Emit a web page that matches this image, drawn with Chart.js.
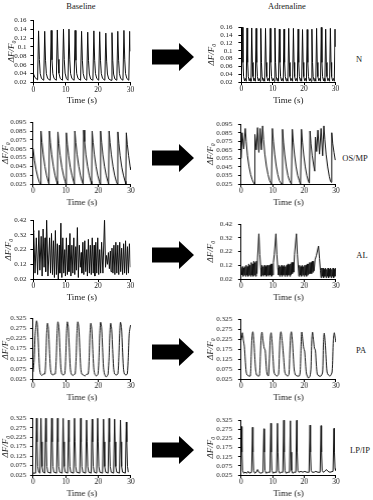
<!DOCTYPE html>
<html><head><meta charset="utf-8">
<script src="https://cdn.jsdelivr.net/npm/chart.js@4.4.1/dist/chart.umd.min.js"></script>
<style>
html,body{margin:0;padding:0;background:#fff;}
body{width:373px;height:500px;position:relative;overflow:hidden;font-family:"Liberation Serif","Times New Roman",serif;color:#222;}
.c{position:absolute;}
.lbl{position:absolute;font-size:8.5px;transform:translate(-50%,-50%);white-space:nowrap;}
svg{position:absolute;left:0;top:0;}
</style></head><body>
<div class="lbl" style="left:81px;top:6px">Baseline</div>
<div class="lbl" style="left:287px;top:6px">Adrenaline</div>
<div class="lbl" style="left:359px;top:59px">N</div>
<div class="lbl" style="left:355px;top:158px">OS/MP</div>
<div class="lbl" style="left:362px;top:255px">AL</div>
<div class="lbl" style="left:361px;top:350px">PA</div>
<div class="lbl" style="left:360px;top:450px">LP/IP</div>
<svg width="373" height="500" id="arrows"></svg>
<script>
// ---- data (time s, ΔF/F0) ----
const xTicks = [0, 10, 20, 30];
const yTicksN = [0.02, 0.04, 0.06, 0.08, 0.1, 0.12, 0.14, 0.16];
const yTicksOS = [0.025, 0.035, 0.045, 0.055, 0.065, 0.075, 0.085, 0.095];
const yTicksAL = [0.02, 0.12, 0.22, 0.32, 0.42];
const yTicksPA = [0.025, 0.075, 0.125, 0.175, 0.225, 0.275, 0.325];
const yTicksLP = [0.025, 0.075, 0.125, 0.175, 0.225, 0.275, 0.325];
const groups = ["N", "OS/MP", "AL", "PA", "LP/IP"];

const baselineN = [
[0,.040],[0.5,.031],[1.3,.026],[1.6,.136],[1.85,.072],[2.1,.040],[2.5,.029],[3.2,.025],
[3.5,.135],[3.75,.070],[4.0,.040],[4.4,.029],[5.2,.025],
[5.5,.137],[5.75,.071],[6.0,.040],[6.4,.029],[7.1,.025],
[7.4,.138],[7.65,.072],[7.9,.041],[8.3,.029],[9.0,.025],
[9.3,.140],[9.55,.072],[9.8,.041],[10.2,.029],[10.7,.025],
[11.0,.140],[11.25,.071],[11.5,.040],[11.9,.029],[12.6,.025],
[12.9,.137],[13.15,.070],[13.4,.040],[13.8,.029],[14.6,.025],
[14.9,.135],[15.15,.070],[15.4,.040],[15.8,.029],[16.5,.025],
[16.8,.133],[17.05,.069],[17.3,.039],[17.7,.028],[18.4,.025],
[18.7,.136],[18.95,.070],[19.2,.040],[19.6,.029],[20.2,.025],
[20.5,.134],[20.75,.070],[21.0,.040],[21.4,.029],[22.1,.025],
[22.4,.131],[22.65,.068],[22.9,.039],[23.3,.028],[24.0,.025],
[24.3,.132],[24.55,.069],[24.8,.039],[25.2,.028],[25.8,.025],
[26.1,.135],[26.35,.070],[26.6,.040],[27.0,.029],[27.7,.025],
[28.0,.137],[28.25,.071],[28.5,.040],[28.9,.029],[29.5,.025],
[29.8,.135],[30.0,.090]
];
const adrenalineN = [
[0,.030],[0.3,.165],[0.5,.07],[0.7,.034],[1.0,.023],[1.25,.029],[1.55,.022],
[1.8,.158],[2.0,.07],[2.2,.034],[2.5,.023],[2.75,.029],[3.05,.022],
[3.3,.158],[3.5,.07],[3.7,.034],[4.0,.023],[4.2,.029],[4.45,.022],
[4.7,.157],[4.9,.07],[5.1,.034],[5.4,.023],[5.65,.029],[5.95,.022],
[6.2,.157],[6.4,.07],[6.6,.034],[6.9,.023],[7.15,.029],[7.45,.022],
[7.7,.157],[7.9,.07],[8.1,.034],[8.4,.023],[8.65,.029],[8.95,.022],
[9.2,.157],[9.4,.07],[9.6,.034],[9.9,.023],[10.15,.029],[10.45,.022],
[10.7,.158],[10.9,.07],[11.1,.034],[11.4,.023],[11.6,.029],[11.85,.022],
[12.1,.155],[12.3,.07],[12.5,.034],[12.8,.023],[13.05,.029],[13.35,.022],
[13.6,.155],[13.8,.07],[14.0,.034],[14.3,.023],[14.55,.029],[14.85,.022],
[15.1,.157],[15.3,.07],[15.5,.034],[15.8,.023],[16.05,.029],[16.35,.022],
[16.6,.157],[16.8,.07],[17.0,.034],[17.3,.023],[17.55,.029],[17.85,.022],
[18.1,.155],[18.3,.07],[18.5,.034],[18.8,.023],[19.0,.029],[19.25,.022],
[19.5,.154],[19.7,.07],[19.9,.034],[20.2,.023],[20.45,.029],[20.75,.022],
[21.0,.154],[21.2,.07],[21.4,.034],[21.7,.023],[21.95,.029],[22.25,.022],
[22.5,.155],[22.7,.07],[22.9,.034],[23.2,.023],[23.45,.029],[23.75,.022],
[24.0,.157],[24.2,.07],[24.4,.034],[24.7,.023],[24.95,.029],[25.25,.022],
[25.5,.160],[25.7,.07],[25.9,.034],[26.2,.023],[26.4,.029],[26.65,.022],
[26.9,.155],[27.1,.07],[27.3,.034],[27.6,.023],[27.85,.029],[28.15,.022],
[28.4,.157],[28.6,.07],[28.8,.034],[29.1,.023],[29.35,.029],[29.65,.022],
[29.9,.155],[30,.11]
];
const baselineOS = [
[0,.065],[0.4,.052],[0.9,.041],[1.4,.033],[1.9,.027],[2.25,.025],
[2.4,.085],[2.7,.072],[3.1,.058],[3.6,.045],[4.1,.035],[4.6,.028],[4.85,.025],
[5.0,.085],[5.3,.072],[5.7,.058],[6.2,.045],[6.7,.035],[7.2,.028],[7.45,.025],
[7.6,.084],[7.9,.071],[8.3,.057],[8.8,.044],[9.3,.035],[9.8,.028],[10.05,.025],
[10.2,.083],[10.5,.070],[10.9,.057],[11.4,.044],[11.9,.035],[12.4,.028],[12.65,.025],
[12.8,.085],[13.1,.072],[13.5,.058],[14.0,.045],[14.5,.035],[15.0,.028],[15.35,.025],
[15.5,.086],[15.8,.073],[16.2,.058],[16.7,.045],[17.2,.035],[17.7,.028],[17.95,.025],
[18.1,.085],[18.4,.072],[18.8,.058],[19.3,.045],[19.8,.035],[20.3,.028],[20.55,.025],
[20.7,.085],[21.0,.072],[21.4,.058],[21.9,.045],[22.4,.035],[22.9,.028],[23.15,.025],
[23.3,.085],[23.6,.072],[24.0,.058],[24.5,.045],[25.0,.035],[25.5,.028],[25.85,.025],
[26.0,.084],[26.3,.071],[26.7,.057],[27.2,.044],[27.7,.035],[28.2,.028],[28.45,.025],
[28.6,.083],[28.9,.070],[29.3,.057],[29.8,.044],[30,.041]
];
const adrenalineOS = [
[0,.055],[0.3,.085],[0.8,.066],[1.3,.090],[1.6,.075],[2.0,.058],[2.5,.045],[3.0,.036],[3.5,.030],[4.0,.026],[4.2,.025],
[4.35,.083],[4.8,.065],[5.2,.091],[5.6,.062],[6.0,.090],[6.4,.065],[6.8,.093],[7.1,.077],[7.5,.060],[8.0,.046],[8.5,.036],[9.0,.029],[9.6,.025],
[9.9,.090],[10.2,.075],[10.6,.060],[11.1,.046],[11.6,.036],[12.1,.029],[12.8,.025],
[13.1,.089],[13.4,.074],[13.8,.059],[14.3,.045],[14.8,.035],[15.3,.029],[15.9,.025],
[16.2,.089],[16.5,.074],[16.9,.059],[17.4,.045],[17.9,.035],[18.4,.029],[18.8,.025],
[19.1,.089],[19.4,.074],[19.8,.059],[20.3,.045],[20.8,.035],[21.3,.028],[21.6,.026],
[21.8,.087],[22.1,.072],[22.5,.058],[23.0,.046],[23.3,.040],
[23.5,.080],[23.9,.063],[24.3,.088],[24.8,.060],[25.3,.090],[25.8,.058],[26.2,.093],[26.5,.077],[26.9,.060],[27.4,.045],[27.9,.034],[28.3,.028],[28.5,.027],
[28.7,.085],[29.0,.072],[29.4,.062],[29.8,.053]
];
const baselineAL = [
[0,.34],[0.1,.35],[0.5,.06],[0.9,.30],[1.3,.05],[1.7,.35],[2.0,.08],[2.4,.31],[2.7,.04],[3.0,.36],[3.3,.10],[3.6,.30],[3.8,.07],[4.1,.43],[4.5,.04],
[5.0,.30],[5.3,.06],[5.6,.33],[5.9,.05],[6.2,.28],[6.5,.03],[6.8,.35],[7.1,.05],[7.4,.26],[7.7,.02],[8.0,.25],[8.2,.06],[8.5,.40],[8.8,.03],
[9.1,.30],[9.4,.06],[9.7,.22],[9.9,.04],[10.2,.30],[10.5,.05],[10.8,.25],[11.0,.07],[11.3,.33],[11.6,.04],[11.9,.25],[12.2,.06],[12.5,.30],
[12.8,.05],[13.1,.24],[13.3,.08],[13.6,.37],[13.9,.03],[14.2,.25],[14.5,.10],[14.8,.20],[15.0,.06],[15.3,.27],[15.6,.05],[15.9,.28],[16.2,.07],
[16.5,.22],[16.7,.04],[17.0,.29],[17.3,.06],[17.6,.25],[17.9,.05],[18.2,.30],[18.5,.06],[18.8,.25],[19.0,.04],[19.3,.27],[19.6,.06],[19.9,.30],
[20.2,.05],[20.5,.22],[20.8,.06],[21.1,.27],[21.5,.06],[22.0,.43],[22.3,.10],[22.6,.18],[22.9,.12],[23.2,.20],[23.5,.09],[23.8,.21],[24.0,.07],
[24.3,.23],[24.6,.06],[24.9,.25],[25.2,.05],[25.5,.27],[25.8,.06],[26.1,.25],[26.4,.05],[26.7,.27],[27.0,.07],[27.3,.23],[27.6,.05],[27.9,.26],
[28.2,.06],[28.5,.28],[28.8,.05],[29.1,.24],[29.4,.06],[29.7,.26],[30,.10]
];
const adrenalineAL = [
[0,.10],[0.2,.05],[0.4,.11],[0.6,.04],[0.8,.10],[1.0,.05],[1.2,.11],[1.4,.04],[1.6,.12],[1.8,.05],[2.0,.11],[2.2,.04],[2.4,.13],[2.6,.05],
[2.8,.12],[3.0,.04],[3.2,.14],[3.4,.05],[3.6,.13],[3.8,.04],[4.0,.15],[4.2,.05],[4.4,.14],[4.6,.04],[4.8,.15],[5.0,.06],[5.2,.18],[5.6,.35],
[5.9,.20],[6.2,.10],[6.4,.04],[6.6,.12],[6.8,.05],[7.0,.11],[7.2,.04],[7.4,.12],[7.6,.05],[7.8,.11],[8.0,.04],[8.2,.12],[8.4,.05],[8.6,.12],
[8.8,.04],[9.0,.12],[9.2,.05],[9.4,.13],[9.6,.04],[9.8,.13],[10.0,.05],[10.2,.14],[10.5,.20],[11.0,.35],[11.3,.20],[11.6,.10],[11.8,.05],
[12.0,.12],[12.2,.04],[12.4,.11],[12.6,.05],[12.8,.12],[13.0,.04],[13.2,.11],[13.4,.05],[13.6,.12],[13.8,.04],[14.0,.11],[14.2,.05],[14.4,.12],
[14.6,.04],[14.8,.13],[15.0,.05],[15.2,.12],[15.4,.04],[15.6,.13],[15.8,.05],[16.0,.14],[16.2,.06],[16.4,.14],[16.6,.07],[16.9,.20],[17.5,.35],
[17.8,.20],[18.1,.10],[18.3,.04],[18.5,.12],[18.7,.05],[18.9,.11],[19.1,.04],[19.3,.12],[19.5,.05],[19.7,.11],[19.9,.04],[20.1,.12],[20.3,.05],
[20.5,.12],[20.7,.04],[20.9,.13],[21.1,.05],[21.3,.13],[21.5,.06],[21.7,.14],[21.9,.06],[22.1,.14],[22.3,.06],[22.5,.15],[22.7,.07],[22.9,.15],
[23.1,.08],[23.4,.16],[23.8,.19],[24.5,.26],[24.8,.17],[25.1,.08],[25.3,.03],[25.5,.10],[25.7,.04],[25.9,.10],[26.1,.03],[26.3,.09],[26.5,.04],
[26.7,.10],[26.9,.03],[27.1,.09],[27.3,.04],[27.5,.10],[27.7,.03],[27.9,.09],[28.1,.04],[28.3,.10],[28.5,.03],[28.7,.09],[28.9,.04],[29.1,.10],
[29.3,.03],[29.5,.09],[29.7,.04],[29.9,.10]
];
const baselinePA = [
[0,.06],[0.3,.12],[0.6,.24],[1.05,.312],[1.35,.28],[1.65,.18],[1.95,.08],[2.25,.05],[2.7,.042],[3.1,.05],[3.6,.05],
[3.9,.13],[4.15,.25],[4.4,.300],[4.7,.27],[5.0,.17],[5.3,.08],[5.6,.05],[6.1,.045],[6.5,.05],[6.8,.05],
[7.1,.13],[7.35,.25],[7.6,.307],[7.9,.28],[8.2,.18],[8.5,.08],[8.8,.05],[9.2,.045],[9.7,.05],
[10.0,.13],[10.25,.25],[10.5,.307],[10.8,.28],[11.1,.18],[11.4,.08],[11.7,.05],[12.2,.042],[12.6,.048],[12.9,.05],
[13.2,.13],[13.45,.25],[13.7,.307],[14.0,.28],[14.3,.18],[14.6,.08],[14.9,.05],[15.4,.045],[15.9,.04],[16.4,.048],[16.9,.05],
[17.2,.13],[17.45,.25],[17.7,.300],[18.0,.27],[18.3,.17],[18.6,.08],[18.9,.05],[19.4,.04],[19.9,.05],
[20.2,.13],[20.45,.25],[20.7,.305],[21.0,.28],[21.3,.18],[21.6,.08],[21.9,.05],[22.4,.035],[22.9,.045],[23.0,.05],
[23.3,.13],[23.55,.25],[23.8,.300],[24.1,.27],[24.4,.17],[24.7,.08],[25.0,.05],[25.5,.045],[26.0,.05],
[26.3,.13],[26.55,.25],[26.8,.305],[27.1,.28],[27.4,.18],[27.7,.08],[28.0,.05],[28.5,.045],[28.9,.05],
[29.2,.13],[29.5,.25],[29.9,.29],[30.0,.285]
];
const adrenalinePA = [
[0,.22],[0.4,.257],[0.7,.22],[1.0,.19],[1.3,.12],[1.6,.06],[1.9,.045],[2.4,.04],[2.9,.04],
[3.2,.15],[3.45,.24],[3.7,.262],[4.0,.22],[4.3,.14],[4.6,.07],[4.9,.045],[5.4,.04],[5.8,.042],
[6.1,.15],[6.35,.24],[6.6,.260],[6.9,.22],[7.3,.18],[7.6,.17],[7.9,.10],[8.2,.05],[8.6,.04],[8.75,.06],
[9.0,.15],[9.25,.24],[9.5,.257],[9.8,.21],[10.1,.13],[10.4,.06],[10.8,.045],[11.4,.04],[11.85,.05],
[12.1,.15],[12.35,.24],[12.6,.262],[12.9,.23],[13.2,.18],[13.5,.12],[13.8,.06],[14.2,.045],[14.8,.04],[15.15,.05],
[15.4,.15],[15.65,.24],[15.9,.262],[16.2,.22],[16.5,.14],[16.8,.07],[17.2,.045],[17.8,.04],[18.4,.04],[18.7,.06],
[18.95,.18],[19.2,.260],[19.5,.22],[19.8,.18],[20.1,.165],[20.4,.10],[20.7,.05],[21.3,.03],[21.8,.04],[22.1,.08],
[22.35,.22],[22.6,.260],[22.9,.22],[23.2,.18],[23.5,.17],[23.8,.10],[24.1,.05],[24.6,.04],[25.3,.04],[25.8,.06],
[26.05,.20],[26.3,.255],[26.6,.21],[26.9,.13],[27.2,.06],[27.6,.045],[28.2,.04],[28.8,.06],
[29.2,.22],[29.5,.257],[29.8,.23],[29.95,.21]
];
const baselineLP = [
[0,.035],[0.75,.035],[1.04,.330],[1.2,.20],[1.4,.07],[1.7,.04],[2.1,.035],
[2.4,.345],[2.55,.20],[2.75,.07],[3.05,.04],[3.55,.035],
[3.85,.350],[4.0,.20],[4.2,.07],[4.5,.04],[5.4,.035],
[5.7,.335],[5.85,.20],[6.05,.07],[6.35,.04],[7.2,.035],
[7.5,.330],[7.65,.20],[7.85,.07],[8.15,.04],[8.9,.035],
[9.2,.325],[9.35,.20],[9.55,.07],[9.85,.04],[10.6,.035],
[10.9,.315],[11.05,.20],[11.25,.07],[11.55,.04],[12.4,.035],
[12.7,.330],[12.85,.20],[13.05,.07],[13.35,.04],[14.3,.035],
[14.6,.340],[14.75,.20],[14.95,.07],[15.25,.04],[16.1,.035],
[16.4,.315],[16.55,.20],[16.75,.07],[17.05,.04],[17.8,.035],
[18.1,.320],[18.25,.20],[18.45,.07],[18.75,.04],[19.5,.035],
[19.8,.330],[19.95,.20],[20.15,.07],[20.45,.04],[21.3,.035],
[21.6,.320],[21.75,.20],[21.95,.07],[22.25,.04],[23.0,.035],
[23.3,.325],[23.45,.20],[23.65,.07],[23.95,.04],[24.7,.035],
[25.0,.320],[25.15,.20],[25.35,.07],[25.65,.04],[26.5,.035],
[26.8,.315],[26.95,.20],[27.15,.07],[27.45,.04],[28.3,.035],
[28.6,.305],[28.75,.20],[28.95,.07],[29.2,.04]
];
const adrenalineLP = [
[0,.15],[0.1,.290],[0.25,.15],[0.45,.05],[0.8,.035],[1.3,.04],[1.8,.035],[2.2,.045],[2.6,.035],[3.3,.04],
[3.6,.286],[3.75,.15],[3.95,.05],[4.3,.035],[4.8,.04],[5.2,.055],[5.6,.04],[6.2,.035],[6.9,.04],
[7.2,.278],[7.35,.15],[7.55,.05],[7.9,.035],[8.5,.04],[9.1,.04],
[9.4,.308],[9.55,.15],[9.75,.05],[10.1,.035],[10.6,.04],[11.2,.04],
[11.5,.308],[11.65,.15],[11.85,.05],[12.2,.035],[12.7,.04],[13.2,.04],
[13.5,.328],[13.65,.15],[13.85,.05],[14.2,.035],[14.8,.04],[15.3,.04],
[15.6,.322],[15.75,.15],[15.95,.05],[16.3,.035],[16.8,.04],[17.3,.04],
[17.6,.325],[17.75,.15],[17.95,.05],[18.3,.04],[18.9,.045],[19.5,.04],[20.1,.045],[20.8,.04],[21.5,.04],
[21.8,.298],[21.95,.15],[22.15,.05],[22.5,.04],[23.1,.04],[23.6,.045],[24.3,.04],[25.0,.04],
[25.3,.295],[25.45,.15],[25.65,.05],[26.0,.04],[26.5,.045],[27.0,.055],[27.5,.045],[28.1,.04],[29.1,.045],
[29.4,.280],[29.55,.15],[29.75,.06],[29.9,.05]
];

// ---- layout ----
const SERIF = '"Liberation Serif","Times New Roman",serif';
const TICKFONT = {family: SERIF, size: 7};
const TITLEFONT = {family: SERIF, size: 9};
const YTITLEFONT = {family: SERIF, size: 9, style: 'italic'};
const INK = '#222';
// area = [left, right, top, bottom] of plot area; titleX = centre of y title
function makeChart(series, yTicks, area, titleX, tension) {
  const [L, R, T, B] = area;
  const half = YTITLEFONT.size * 1.2 / 2;
  const left = Math.max(0, titleX - half);
  const yW = L - left;
  const pT = 6, pR = 9, xH = 24;
  const top = T - pT;
  const w = R - left + pR, h = B + xH - top;
  const div = document.createElement('div');
  div.className = 'c';
  Object.assign(div.style, {left: left + 'px', top: top + 'px', width: w + 'px', height: h + 'px'});
  const cv = document.createElement('canvas');
  div.appendChild(cv);
  document.body.appendChild(div);
  new Chart(cv, {
    type: 'line',
    data: {datasets: [{data: series.map(p => ({x: p[0], y: p[1]})), borderColor: '#111', borderWidth: 1,
      pointRadius: 0, tension: tension || 0, fill: false}]},
    options: {
      responsive: true, maintainAspectRatio: false, animation: false, events: [],
      layout: {padding: {top: pT, right: pR, left: 0, bottom: 0}},
      plugins: {legend: {display: false}, tooltip: {enabled: false}},
      scales: {
        x: {type: 'linear', min: 0, max: 30,
          afterFit: s => { s.height = xH; },
          afterBuildTicks: s => { s.ticks = xTicks.map(v => ({value: v})); },
          ticks: {font: {family: SERIF, size: 7.5}, color: INK, padding: 0, maxRotation: 0, autoSkip: false},
          grid: {drawOnChartArea: false, tickLength: 3, color: '#000', lineWidth: 1},
          border: {color: '#000', width: 1},
          title: {display: true, text: 'Time (s)', font: TITLEFONT, color: INK, padding: 0}},
        y: {min: yTicks[0], max: yTicks[yTicks.length - 1],
          afterFit: s => { s.width = yW; },
          afterBuildTicks: s => { s.ticks = yTicks.map(v => ({value: v})); },
          ticks: {font: TICKFONT, color: INK, padding: L < 150 ? 4 : 6, autoSkip: false,
            callback: v => String(+Number(v).toFixed(3))},
          grid: {drawOnChartArea: false, tickLength: 3, color: '#000', lineWidth: 1},
          border: {color: '#000', width: 1},
          title: {display: true, text: 'ΔF/F₀', font: YTITLEFONT, color: INK, padding: 0}}
      }
    }
  });
}
makeChart(baselineN, yTicksN, [33, 130, 17.5, 82], 11);
makeChart(adrenalineN, yTicksN, [241, 335, 23, 82], 211);
makeChart(baselineOS, yTicksOS, [33, 130, 120, 184], 5.5);
makeChart(adrenalineOS, yTicksOS, [241, 335, 120, 184], 210.5);
makeChart(baselineAL, yTicksAL, [33, 130, 218, 279], 8);
makeChart(adrenalineAL, yTicksAL, [241, 335, 220, 279], 210.5);
makeChart(baselinePA, yTicksPA, [33, 130, 316, 379], 5.5, 0.25);
makeChart(adrenalinePA, yTicksPA, [241, 335, 315, 379], 210.5, 0.25);
makeChart(baselineLP, yTicksLP, [33, 130, 416, 475], 5.5);
makeChart(adrenalineLP, yTicksLP, [241, 335, 416, 475], 210.5);

// arrows between panels
const svg = document.getElementById('arrows');
[57, 158, 255, 352, 450].forEach(cy => {
  const p = document.createElementNS('http://www.w3.org/2000/svg', 'polygon');
  p.setAttribute('points', `152,${cy-7.5} 179,${cy-7.5} 179,${cy-14} 194,${cy} 179,${cy+14} 179,${cy+7.5} 152,${cy+7.5}`);
  p.setAttribute('fill', '#000');
  svg.appendChild(p);
});
</script>
</body></html>
